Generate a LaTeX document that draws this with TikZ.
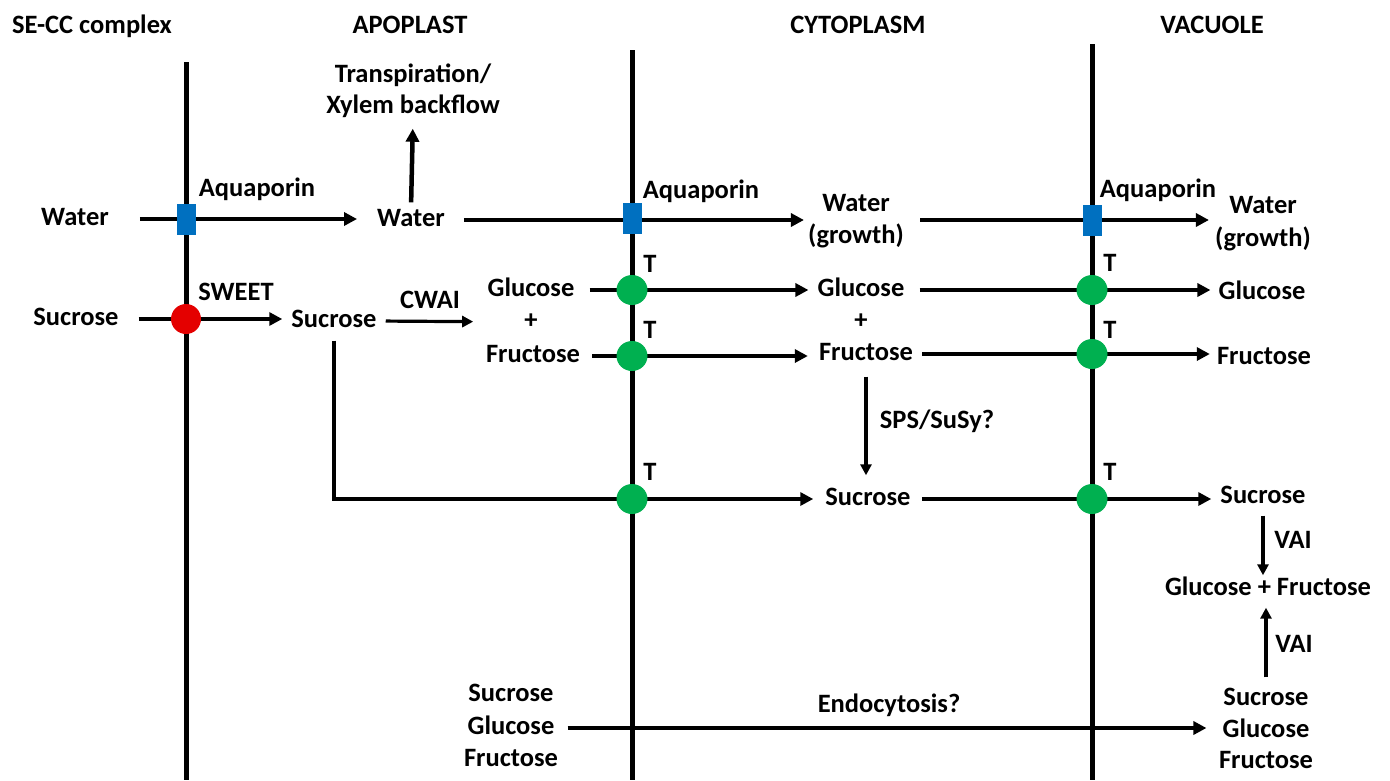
\documentclass[tikz,border=0pt]{standalone}
\usepackage{fontspec}
\setmainfont{Carlito}
\usetikzlibrary{arrows.meta,shapes.geometric}
\definecolor{aqblue}{RGB}{0,112,192}
\definecolor{swred}{RGB}{228,0,0}
\definecolor{tgreen}{RGB}{0,176,80}
\begin{document}
\begin{tikzpicture}[x=1pt,y=-1pt,
  lbl/.style={font=\bfseries\fontsize{26.5}{30}\selectfont, inner sep=0pt, text height=18pt, text depth=5pt, anchor=center},
  memline/.style={line width=5pt},
  arr/.style={line width=4.5pt, -{Triangle[length=13pt,width=13pt]}},
  thinarr/.style={line width=3.2pt, -{Triangle[length=11pt,width=11pt]}},
  aqp/.style={rectangle, fill=aqblue, minimum width=19pt, minimum height=31pt, inner sep=0pt},
  swt/.style={ellipse, fill=swred, minimum width=30pt, minimum height=30pt, inner sep=0pt},
  trp/.style={ellipse, fill=tgreen, minimum width=31pt, minimum height=30pt, inner sep=0pt}
]
\useasboundingbox[fill=white] (0,0) rectangle (1390,780);

% membranes
\coordinate (m1t) at (186,62);  \coordinate (m1b) at (186,780);
\coordinate (m2t) at (632,50);  \coordinate (m2b) at (632,780);
\coordinate (m3t) at (1092,44); \coordinate (m3b) at (1092,780);
\draw[memline] (m1t) -- (m1b);
\draw[memline] (m2t) -- (m2b);
\draw[memline] (m3t) -- (m3b);

% headers
\node[lbl] (hse) at (92,27) {SE-CC complex};
\node[lbl] (hap) at (410,27) {APOPLAST};
\node[lbl] (hcy) at (858,27) {CYTOPLASM};
\node[lbl] (hva) at (1212,27) {VACUOLE};

% labels
\node[lbl] (tr1) at (413,76) {Transpiration/};
\node[lbl] (tr2) at (413,107) {Xylem backflow};

\node[lbl] (w1) at (75,219) {Water};
\node[lbl] (w2) at (411,220) {Water};
\node[lbl] (w3a) at (856,205) {Water};
\node[lbl] (w3b) at (856,237) {(growth)};
\node[lbl] (w4a) at (1263,207) {Water};
\node[lbl] (w4b) at (1263,240) {(growth)};

\node[lbl] (aql1) at (257,190) {Aquaporin};
\node[lbl] (aql2) at (701,192) {Aquaporin};
\node[lbl] (aql3) at (1158,191) {Aquaporin};

\node[lbl] (s1) at (76,319) {Sucrose};
\node[lbl] (s2) at (334,321) {Sucrose};
\node[lbl] (swl) at (236,294) {SWEET};
\node[lbl] (cwl) at (430,302) {CWAI};

\node[lbl] (g2) at (531,290) {Glucose};
\node[lbl] (p2) at (531,322) {+};
\node[lbl] (f2) at (533,356) {Fructose};
\node[lbl] (g3) at (861,290) {Glucose};
\node[lbl] (p3) at (861,322) {+};
\node[lbl] (f3) at (866,354) {Fructose};
\node[lbl] (g4) at (1262,293) {Glucose};
\node[lbl] (f4) at (1264,358) {Fructose};

\node[lbl] (spl) at (937,422) {SPS/SuSy?};

\node[lbl] (s3) at (868,499) {Sucrose};
\node[lbl] (s4) at (1263,497) {Sucrose};
\node[lbl] (vai1) at (1293,542) {VAI};
\node[lbl] (gf) at (1268,589) {Glucose + Fructose};
\node[lbl] (vai2) at (1294,646) {VAI};

\node[lbl] (s6) at (511,695) {Sucrose};
\node[lbl] (g6) at (511,728) {Glucose};
\node[lbl] (f6) at (511,760) {Fructose};
\node[lbl] (endo) at (889,706) {Endocytosis?};
\node[lbl] (s5) at (1266,699) {Sucrose};
\node[lbl] (g5) at (1266,731) {Glucose};
\node[lbl] (f5) at (1266,762) {Fructose};

\foreach \n/\x/\y in {t1/650/266, t2/650/332, t3/650/474, t4/1110/265, t5/1110/332, t6/1110/474}
  \node[lbl] (\n) at (\x,\y) {T};

% connectors
\draw[arr, shorten <=31pt, shorten >=20pt] (w1.east) -- (w1.east -| w2.west);
\draw[arr, shorten <=6pt, shorten >=10pt] (w2.north) -- (tr2.south);
\draw[arr, shorten <=19pt, shorten >=4pt] (w2.east) -- (w2.east -| w3b.west);
\draw[arr, shorten <=16pt, shorten >=6pt] (w3b.east |- w2.east) -- (w4b.west |- w2.east);

\draw[arr, shorten <=20pt, shorten >=9pt] (s1.east) -- (s1.east -| s2.west);
\draw[thinarr, shorten <=9pt, shorten >=51pt] (s2.east) -- (p2.west);

\draw[arr, shorten <=15pt, shorten >=9pt] (g2.east) -- (g2.east -| g3.west);
\draw[arr, shorten <=12pt, shorten >=11pt] (f2.east) -- (f2.east -| f3.west);
\draw[arr, shorten <=15pt, shorten >=8pt] (g3.east) -- (g3.east -| g4.west);
\draw[arr, shorten <=9pt, shorten >=7pt] (f3.east) -- (f3.east -| f4.west);

\draw[thinarr, shorten <=11pt, shorten >=12pt] (f3.south) -- (f3.south |- s3.north);
\draw[arr, shorten <=8pt, shorten >=12pt] (s2.south) |- (s3.west);
\draw[arr, shorten <=11pt, shorten >=9pt] (s3.east) -- (s3.east -| s4.west);

\draw[thinarr, shorten <=7pt, shorten >=2pt] (s4.south) -- (s4.south |- gf.north);
\draw[thinarr, shorten <=10pt, shorten >=7pt] (s5.north) -- (s5.north |- gf.south);

\draw[arr, shorten <=13pt, shorten >=16pt] (g6.east) -- (g6.east -| g5.west);

% transporters (on top of lines)
\node[aqp] (aq1) at (m1t |- w1) {};
\node[aqp] (aq2) at (632,218) {};
\node[aqp] (aq3) at (1092,220) {};
\node[swt] (sw1) at (m1t |- s1) {};
\node[trp] (tp1) at (m2t |- g2) {};
\node[trp] (tp2) at (m2t |- f2) {};
\node[trp] (tp3) at (m2t |- s3) {};
\node[trp] (tp4) at (m3t |- g3) {};
\node[trp] (tp5) at (m3t |- f3) {};
\node[trp] (tp6) at (m3t |- s3) {};
\end{tikzpicture}
\end{document}
